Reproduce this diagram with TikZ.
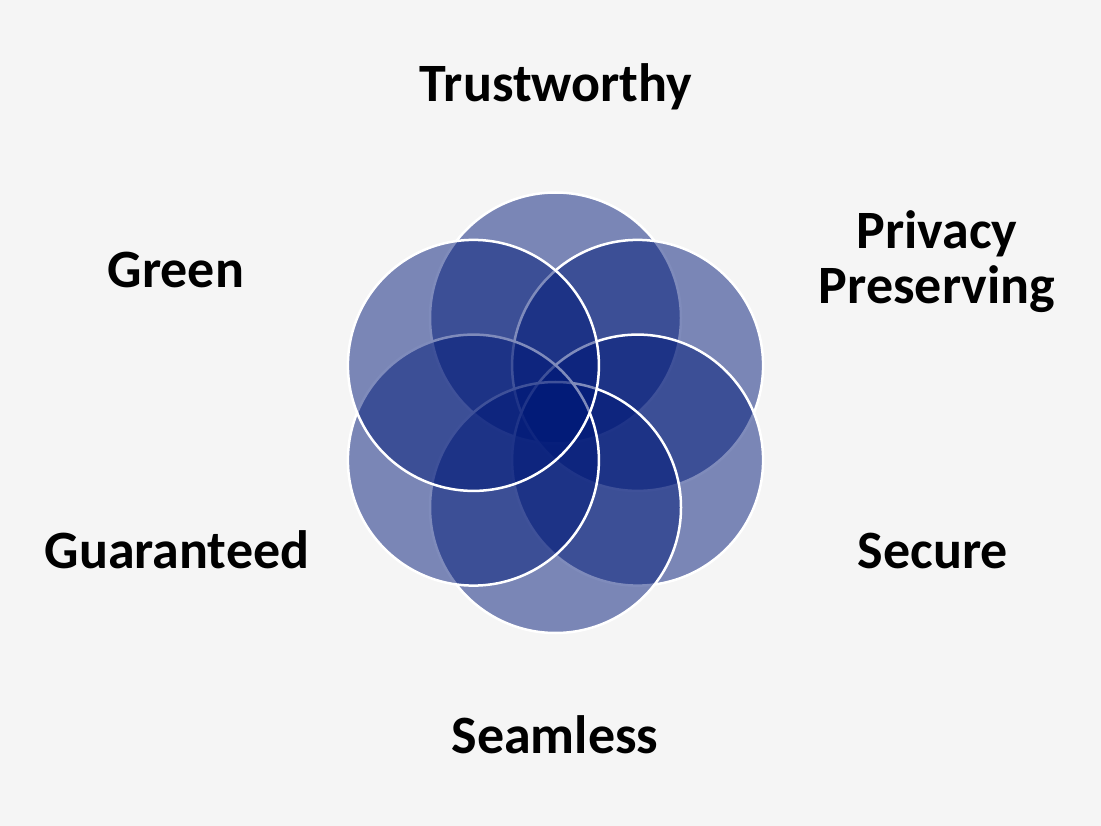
\documentclass[tikz,border=0pt]{standalone}
\usepackage{fontspec}
\setmainfont{Carlito}
\definecolor{navy}{RGB}{0,25,120}
\definecolor{bgcol}{RGB}{245,245,245}
\begin{document}
\begin{tikzpicture}[x=1pt,y=-1pt,
  petal/.style={circle, inner sep=0pt, minimum size=251pt, fill=navy, fill opacity=0.5, draw=white, draw opacity=1, line width=2.5pt},
  label/.style={font=\fontsize{54}{55}\selectfont\bfseries, text=black, inner sep=0pt, anchor=base, align=center}]
\fill[bgcol] (0,0) rectangle (1101,826);
\useasboundingbox (0,0) rectangle (1101,826);
\node[petal] (c1) at (555.5,318.0) {};
\node[petal] (c2) at (637.6,365.4) {};
\node[petal] (c3) at (637.6,460.1) {};
\node[petal] (c4) at (555.5,507.5) {};
\node[petal] (c5) at (473.4,460.1) {};
\node[petal] (c6) at (473.4,365.4) {};
\node[label] (t1) at (556,102) {Trustworthy};
\node[label] (t2) at (937,304) {Privacy\\Preserving};
\node[label] (t3) at (933,568) {Secure};
\node[label] (t4) at (555,753) {Seamless};
\node[label] (t5) at (177,568) {Guaranteed};
\node[label] (t6) at (176,288) {Green};
\end{tikzpicture}
\end{document}
